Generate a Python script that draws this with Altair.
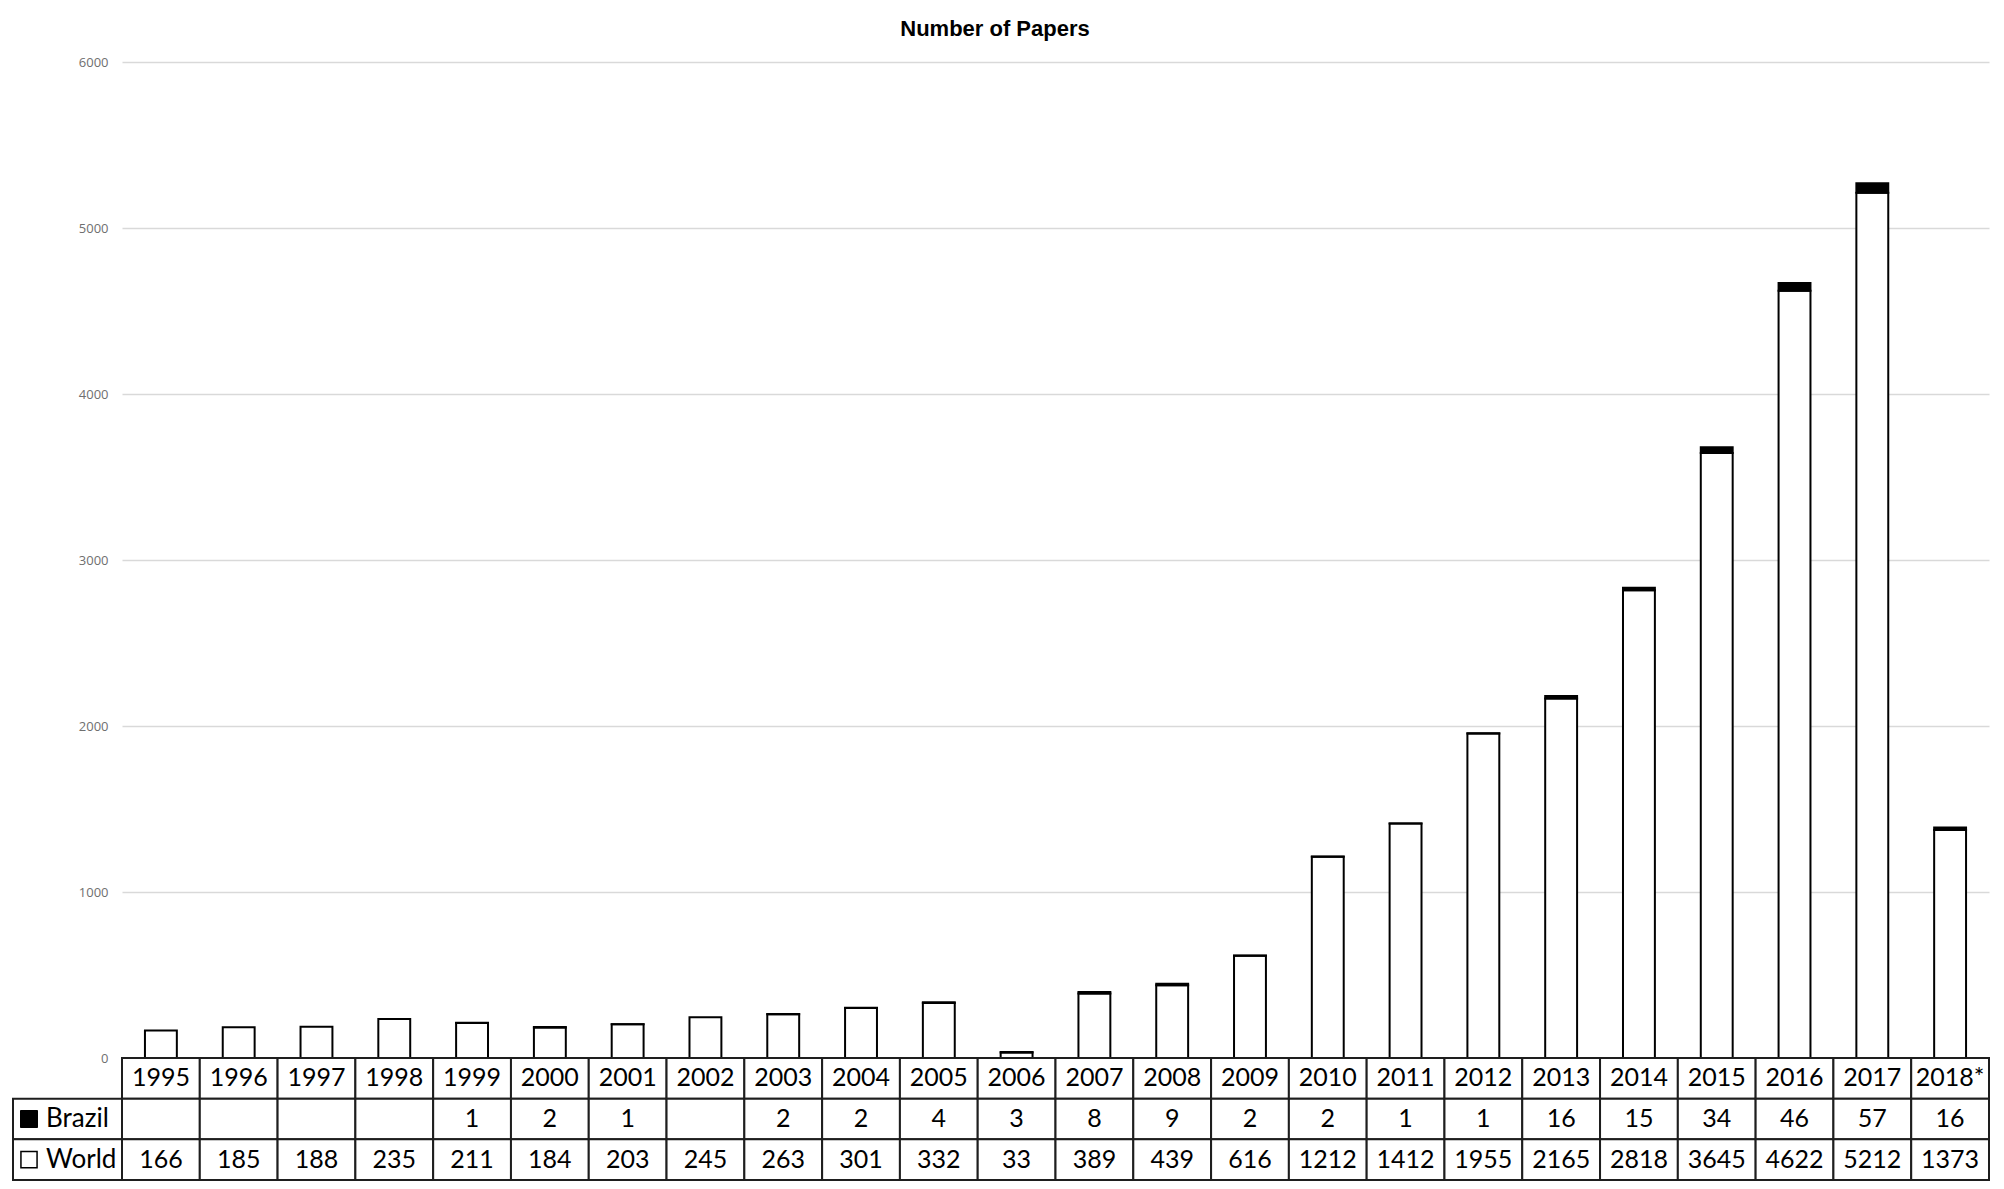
import altair as alt
import pandas as pd

years = ["1995", "1996", "1997", "1998", "1999", "2000", "2001", "2002", "2003",
         "2004", "2005", "2006", "2007", "2008", "2009", "2010", "2011", "2012",
         "2013", "2014", "2015", "2016", "2017", "2018*"]
brazil = [None, None, None, None, 1, 2, 1, None, 2, 2, 4, 3, 8, 9, 2, 2, 1, 1,
          16, 15, 34, 46, 57, 16]
world = [166, 185, 188, 235, 211, 184, 203, 245, 263, 301, 332, 33, 389, 439,
         616, 1212, 1412, 1955, 2165, 2818, 3645, 4622, 5212, 1373]
series = ["World", "Brazil"]
rows = ["Year", "Brazil", "World"]
y_ticks = [0, 1000, 2000, 3000, 4000, 5000, 6000]

# long table for the stacked bars
bar_records = []
for y, w, b in zip(years, world, brazil):
    bar_records.append({"year": y, "series": "World", "value": w, "order": 0})
    if b is not None:
        bar_records.append({"year": y, "series": "Brazil", "value": b, "order": 1})
bars_df = pd.DataFrame(bar_records)

# data table under the chart
tab_records = []
for y, w, b in zip(years, world, brazil):
    tab_records.append({"year": y, "row": "Year", "label": y})
    tab_records.append({"year": y, "row": "Brazil", "label": "" if b is None else str(b)})
    tab_records.append({"year": y, "row": "World", "label": str(w)})
tab_df = pd.DataFrame(tab_records)
legend_df = pd.DataFrame({"row": ["Brazil", "World"]})

W = 1867
x_enc = alt.X("year:N", sort=years, axis=None,
              scale=alt.Scale(paddingInner=0, paddingOuter=0))

top = alt.Chart(bars_df).mark_bar(
    width=alt.RelativeBandSize(0.41), stroke="black", strokeWidth=2
).encode(
    x=x_enc,
    y=alt.Y("value:Q", stack="zero",
            scale=alt.Scale(domain=[0, 6000], nice=False),
            axis=alt.Axis(values=y_ticks, format="d", grid=True, gridColor="#d9d9d9",
                          gridWidth=1.5, domain=False, ticks=False,
                          labelColor="#6f6f6f", labelFontSize=13,
                          labelFont="Open Sans", labelPadding=14, title=None)),
    color=alt.Color("series:N", scale=alt.Scale(domain=series, range=["white", "black"]),
                    legend=None),
    order=alt.Order("order:Q"),
).properties(width=W, height=996)

y_row = alt.Y("row:N", sort=rows, axis=None,
              scale=alt.Scale(paddingInner=0, paddingOuter=0))
line_col = "#1e1e1e"
table_font = "Lato"

cells = alt.Chart(tab_df).mark_rect(fill="white", stroke=line_col, strokeWidth=2).encode(
    x=x_enc, y=y_row)
cell_text = alt.Chart(tab_df).mark_text(font=table_font, fontSize=25, color="black",
                                        baseline="middle").encode(
    x=x_enc, y=y_row, text="label:N")
leg_cells = alt.Chart(legend_df).mark_rect(fill="white", stroke=line_col, strokeWidth=2).encode(
    x=alt.value(-109), x2=alt.value(0), y=y_row)
leg_sq_b = alt.Chart(legend_df).transform_filter(alt.datum.row == "Brazil").mark_square(
    size=289, fill="black", stroke="black", strokeWidth=1, opacity=1).encode(
    x=alt.value(-93), y=y_row)
leg_sq_w = alt.Chart(legend_df).transform_filter(alt.datum.row == "World").mark_square(
    size=260, fill="white", stroke="black", strokeWidth=1.5, opacity=1).encode(
    x=alt.value(-93), y=y_row)
leg_text = alt.Chart(legend_df).mark_text(font=table_font, fontSize=26, color="black",
                                          align="left", baseline="middle").encode(
    x=alt.value(-76), y=y_row, text="row:N")

bottom = alt.layer(cells, cell_text, leg_cells, leg_sq_b, leg_sq_w, leg_text).properties(
    width=W, height=122)

chart = alt.vconcat(top, bottom, spacing=0, bounds="flush").properties(
    title=alt.TitleParams("Number of Papers", font="Liberation Sans", fontSize=22,
                          fontWeight="bold", color="black", anchor="middle",
                          offset=15, dx=-6),
    padding={"left": 4, "top": 10, "right": 5, "bottom": 0},
).configure_view(stroke=None)

chart.save("out.html", embed_options={"renderer": "svg", "actions": False})
